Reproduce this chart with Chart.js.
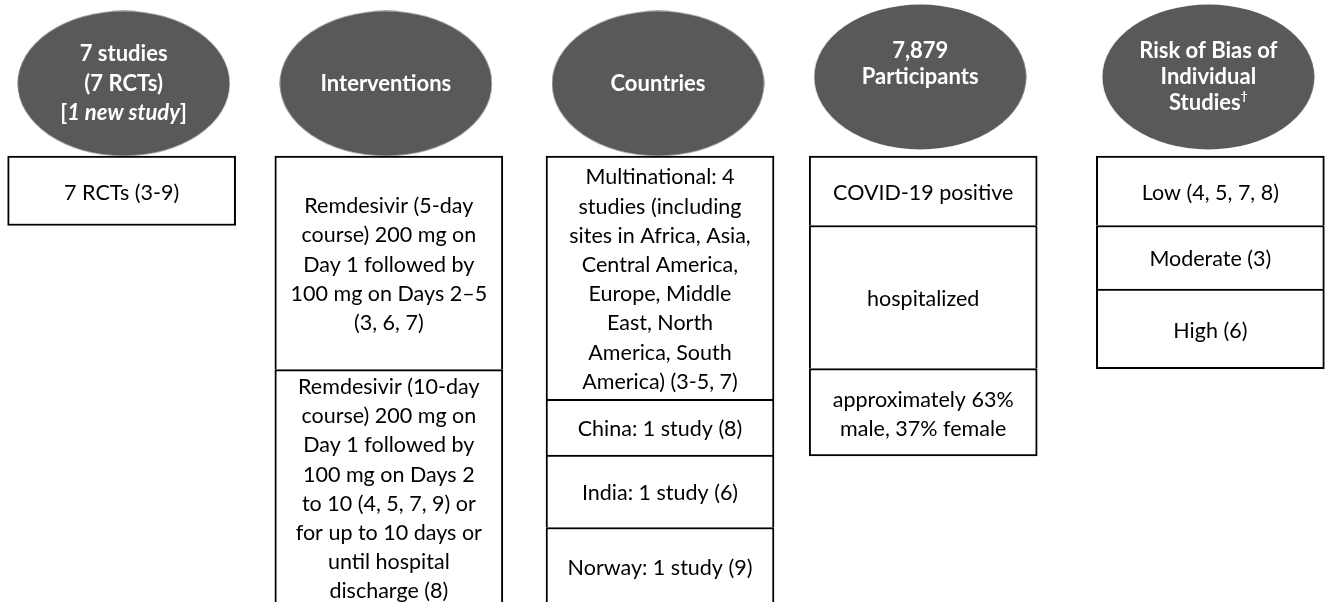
<!DOCTYPE html>
<html>
<head>
<meta charset="utf-8">
<script src="https://cdn.jsdelivr.net/npm/chart.js@4.4.1/dist/chart.umd.min.js"></script>
<style>
  html, body { margin: 0; padding: 0; background: #fff; }
  .chart-box { position: relative; width: 1327px; height: 604px; }
</style>
</head>
<body>
<div class="chart-box"><canvas id="chart"></canvas></div>
<script>
'use strict';

// Content: header bubbles and the text of each box (one array per column)
const headers = [
  ['7 studies', '(7 RCTs)', '[_1 new study_]'],
  ['Interventions'],
  ['Countries'],
  ['7,879', 'Participants', ''],
  ['Risk of Bias of', 'Individual', 'Studies^†'],
];
const studyCells = [['7 RCTs (3-9)']];
const interventionCells = [
  ['Remdesivir (5-day', 'course) 200 mg on', 'Day 1 followed by', '100 mg on Days 2–5', '(3, 6, 7)'],
  ['Remdesivir (10-day', 'course) 200 mg on', 'Day 1 followed by', '100 mg on Days 2',
    'to 10 (4, 5, 7, 9) or', 'for up to 10 days or', 'until hospital', 'discharge (8)'],
];
const countryCells = [
  ['Multinational: 4', 'studies (including', 'sites in Africa, Asia,', 'Central America,',
    'Europe, Middle', 'East, North', 'America, South', 'America) (3-5, 7)'],
  ['China: 1 study (8)'],
  ['India: 1 study (6)'],
  ['Norway: 1 study (9)'],
];
const participantCells = [
  ['COVID-19 positive'],
  ['hospitalized'],
  ['approximately 63%', 'male, 37% female'],
];
const biasCells = [['Low (4, 5, 7, 8)'], ['Moderate (3)'], ['High (6)']];
const cells = [studyCells, interventionCells, countryCells, participantCells, biasCells];

// Layout (scale units = page pixels)
const boxX = [120, 388, 660, 924, 1212];
const headerX = [122, 385, 658, 921, 1210];
const headerY = [82, 82, 82, 75.5, 75.5];
const headerLineHeight = [29.5, 29.5, 29.5, 26, 26];
const cellEdges = [
  [155, 225],
  [155, 370, 607],
  [155, 400, 456, 529, 607],
  [155, 225, 369, 457],
  [155, 225, 289, 369],
];

const bodyFont = '21.5px Lato';
const headFont = 'bold 22px Lato';

const boxData = [];
cells.forEach((col, c) => {
  col.forEach((lines, r) => {
    boxData.push({ x: boxX[c], y: [cellEdges[c][r], cellEdges[c][r + 1]], col: c, row: r });
  });
});
const bubbleData = headerX.map((x, c) => ({ x, y: headerY[c] }));

// ellipse image used as point style
const bubble = document.createElement('canvas');
bubble.width = 213;
bubble.height = 146;
const bctx = bubble.getContext('2d');
bctx.fillStyle = '#595959';
bctx.beginPath();
bctx.ellipse(106.5, 73, 106, 72.5, 0, 0, Math.PI * 2);
bctx.fill();

const parseLine = function (line) {
  const parts = [];
  let italic = false;
  let buf = '';
  for (let k = 0; k < line.length; k++) {
    const ch = line[k];
    if (ch === '_') {
      if (buf) parts.push({ text: buf, italic, sup: false });
      buf = '';
      italic = !italic;
    } else if (ch === '^') {
      if (buf) parts.push({ text: buf, italic, sup: false });
      buf = '';
      parts.push({ text: line[k + 1], italic, sup: true });
      k++;
    } else buf += ch;
  }
  if (buf) parts.push({ text: buf, italic, sup: false });
  return parts;
};

const drawLines = function (ctx, lines, x, y, lh, font, color, bold) {
  const top = y - ((lines.length - 1) * lh) / 2;
  ctx.fillStyle = color;
  ctx.textBaseline = 'middle';
  ctx.textAlign = 'left';
  lines.forEach((line, i) => {
    const parts = parseLine(line);
    const fonts = parts.map(p => {
      if (p.sup) return (bold ? 'bold ' : '') + '12px Lato';
      return (p.italic ? 'italic ' : '') + font;
    });
    let width = 0;
    parts.forEach((p, k) => {
      ctx.font = fonts[k];
      width += ctx.measureText(p.text).width;
    });
    let cx = x - width / 2;
    const ly = top + i * lh;
    parts.forEach((p, k) => {
      ctx.font = fonts[k];
      ctx.fillText(p.text, cx, p.sup ? ly - 7 : ly);
      cx += ctx.measureText(p.text).width;
    });
  });
};

const labelPlugin = {
  id: 'labels',
  afterDatasetsDraw(chart) {
    const ctx = chart.ctx;
    ctx.save();
    chart.getDatasetMeta(0).data.forEach((bar, i) => {
      const raw = boxData[i];
      const mid = (bar.y + bar.base) / 2;
      drawLines(ctx, cells[raw.col][raw.row], bar.x, mid + 2, 29.2, bodyFont, '#000', false);
    });
    chart.getDatasetMeta(1).data.forEach((pt, c) => {
      drawLines(ctx, headers[c], pt.x, pt.y, headerLineHeight[c], headFont, '#fff', true);
    });
    ctx.restore();
  },
};

new Chart(document.getElementById('chart'), {
  type: 'bar',
  data: {
    datasets: [
      {
        data: boxData,
        backgroundColor: '#fff',
        borderColor: '#000',
        borderSkipped: false,
        borderWidth: c => {
          const raw = c.raw;
          const last = raw.row === cells[raw.col].length - 1;
          return { top: 2, left: 2, right: 2, bottom: last ? 2 : 0 };
        },
        barThickness: 228,
        order: 2,
      },
      {
        type: 'scatter',
        data: bubbleData,
        pointStyle: bubble,
        pointRadius: 1,
        pointHoverRadius: 1,
        order: 1,
      },
    ],
  },
  options: {
    responsive: true,
    maintainAspectRatio: false,
    animation: false,
    events: [],
    layout: { padding: 0 },
    scales: {
      x: { type: 'linear', min: 0, max: 1327, offset: false, display: false },
      y: { type: 'linear', min: 0, max: 604, reverse: true, display: false },
    },
    plugins: {
      legend: { display: false },
      tooltip: { enabled: false },
    },
  },
  plugins: [labelPlugin],
});
</script>
</body>
</html>
